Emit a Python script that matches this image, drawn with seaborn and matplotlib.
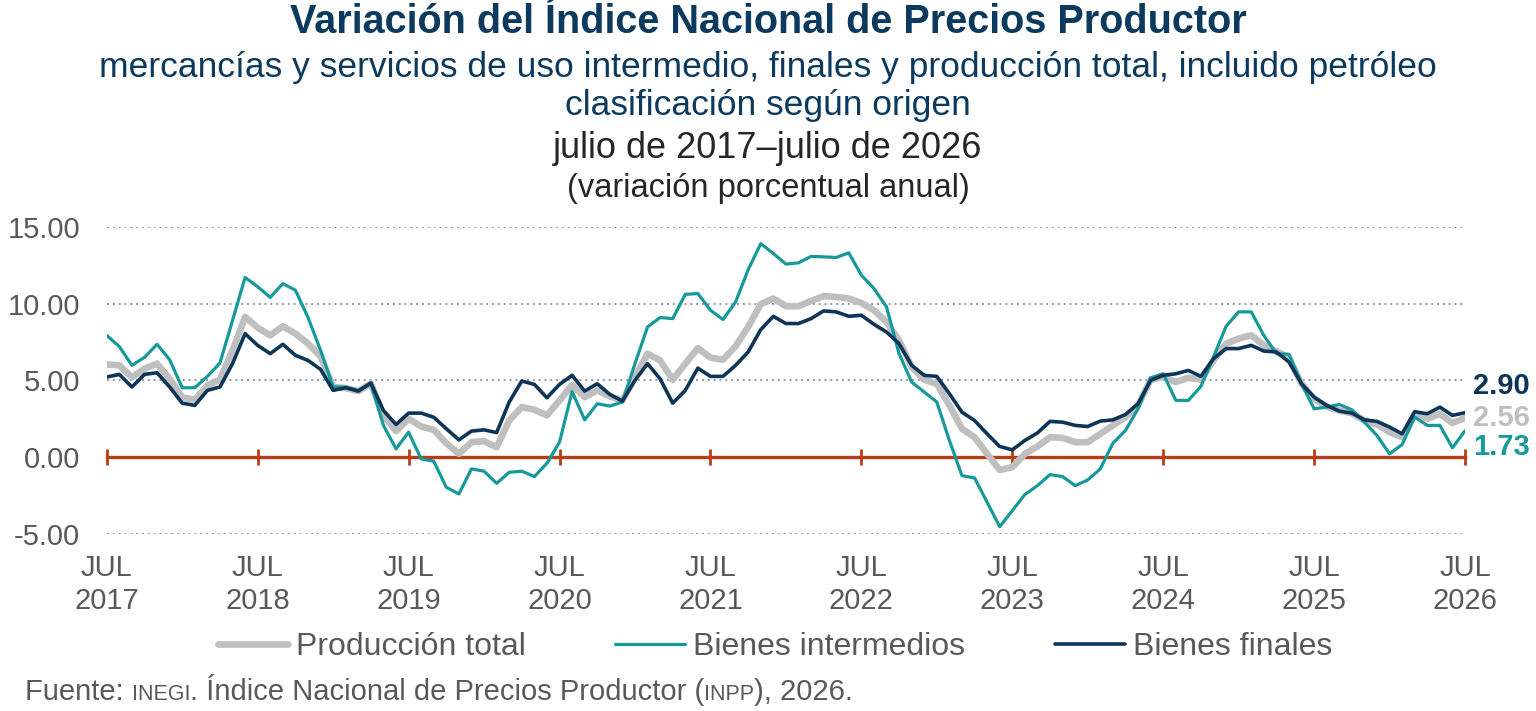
import numpy as np
import pandas as pd
import matplotlib
matplotlib.use('Agg')
import matplotlib.pyplot as plt
import seaborn as sns

# datos mensuales, julio 2017 a julio 2026 (variacion % anual)
years = list(range(2017, 2027))

total = [6.04, 5.98, 5.2, 5.76, 6.09, 5.1, 3.9, 3.74, 4.67, 5.04, 6.96, 9.13,
         8.43, 7.93, 8.52, 8.04, 7.4, 6.57, 4.57, 4.5, 4.3, 4.8, 2.72, 1.7,
         2.5, 2.0, 1.78, 0.91, 0.22, 0.98, 1.04, 0.65, 2.39, 3.26, 3.09, 2.72,
         3.7, 4.7, 3.91, 4.35, 3.96, 3.7, 5.22, 6.74, 6.3, 5.04, 6.09, 7.1,
         6.48, 6.35, 7.22, 8.48, 9.96, 10.33, 9.83, 9.83, 10.17, 10.48, 10.43, 10.33,
         10.04, 9.57, 8.8, 7.6, 5.87, 5.04, 4.78, 3.37, 1.85, 1.3, 0.22, -0.83,
         -0.65, 0.22, 0.7, 1.3, 1.26, 0.98, 0.98, 1.52, 2.07, 2.61, 3.37, 5.04,
         5.22, 4.89, 5.17, 5.04, 6.3, 7.39, 7.72, 7.93, 7.28, 6.9, 6.48, 4.78,
         3.8, 3.3, 3.04, 2.87, 2.39, 2.13, 1.63, 1.3, 2.83, 2.5, 2.83, 2.22,
         2.56]

intermedios = [7.93, 7.2, 5.98, 6.5, 7.35, 6.35, 4.52, 4.52, 5.26, 6.13, 8.9, 11.7,
               11.1, 10.4, 11.3, 10.87, 9.1, 6.96, 4.57, 4.57, 4.35, 4.78, 2.07, 0.54,
               1.63, -0.11, -0.26, -1.96, -2.39, -0.76, -0.91, -1.7, -0.98, -0.91, -1.26, -0.39,
               0.98, 4.27, 2.43, 3.48, 3.33, 3.59, 6.09, 8.48, 9.09, 9.02, 10.6, 10.65,
               9.57, 8.96, 10.1, 12.2, 13.9, 13.26, 12.57, 12.65, 13.07, 13.04, 13.0, 13.3,
               11.85, 10.98, 9.78, 6.74, 4.89, 4.24, 3.59, 1.09, -1.2, -1.35, -2.93, -4.52,
               -3.48, -2.43, -1.85, -1.13, -1.26, -1.85, -1.48, -0.76, 0.91, 1.74, 3.15, 5.17,
               5.43, 3.7, 3.7, 4.61, 6.52, 8.52, 9.46, 9.46, 7.93, 6.74, 6.7, 4.78,
               3.15, 3.26, 3.43, 3.09, 2.28, 1.41, 0.22, 0.83, 2.61, 2.07, 2.07, 0.61,
               1.73]

finales = [5.22, 5.39, 4.57, 5.39, 5.5, 4.57, 3.52, 3.37, 4.35, 4.57, 6.09, 8.04,
           7.28, 6.74, 7.35, 6.63, 6.3, 5.72, 4.35, 4.52, 4.3, 4.83, 3.04, 2.13,
           2.87, 2.87, 2.6, 1.85, 1.13, 1.7, 1.78, 1.6, 3.59, 4.96, 4.74, 3.87,
           4.74, 5.33, 4.3, 4.78, 4.09, 3.65, 5.0, 6.09, 5.1, 3.52, 4.35, 5.8,
           5.26, 5.26, 5.98, 6.85, 8.3, 9.17, 8.7, 8.7, 9.02, 9.52, 9.46, 9.17,
           9.24, 8.65, 8.15, 7.39, 5.98, 5.33, 5.26, 4.13, 2.93, 2.39, 1.52, 0.7,
           0.48, 1.09, 1.58, 2.33, 2.28, 2.07, 2.0, 2.35, 2.43, 2.78, 3.48, 5.0,
           5.33, 5.43, 5.65, 5.26, 6.41, 7.07, 7.07, 7.28, 6.91, 6.85, 6.2, 4.78,
           3.91, 3.37, 3.0, 2.87, 2.43, 2.33, 1.96, 1.52, 2.96, 2.83, 3.26, 2.72,
           2.90]

ytick_vals = [-5, 0, 5, 10, 15]
ytick_labels = ['-5.00', '0.00', '5.00', '10.00', '15.00']
xtick_labels = ['JUL\n' + str(y) for y in years]

df = pd.DataFrame({'mes': np.arange(len(total)),
                   'Producción total': total,
                   'Bienes intermedios': intermedios,
                   'Bienes finales': finales})

gray = '#BFBFBF'
teal = '#17999B'
navy = '#0C3558'
red = '#B83C16'
txt = '#595959'

sns.set_style('white')
plt.rcParams['font.family'] = ['Liberation Sans', 'DejaVu Sans']

fig = plt.figure(figsize=(15.36, 7.11), dpi=100)
ax = fig.add_axes([0.0695, 0.2489, 0.8843, 0.4322])

sns.lineplot(data=df, x='mes', y='Producción total', ax=ax, color=gray, linewidth=4.8, label='Producción total')
sns.lineplot(data=df, x='mes', y='Bienes intermedios', ax=ax, color=teal, linewidth=2.3, label='Bienes intermedios')
sns.lineplot(data=df, x='mes', y='Bienes finales', ax=ax, color=navy, linewidth=2.6, label='Bienes finales')

handles, labels = ax.get_legend_handles_labels()
if ax.get_legend():
    ax.get_legend().remove()

ax.set_xlim(0, len(total) - 1)
ax.set_ylim(-5, 15)
ax.set_xlabel('')
ax.set_ylabel('')
ax.set_yticks(ytick_vals, ytick_labels)
ax.set_xticks(range(0, len(total), 12), xtick_labels)
for lbl in ax.get_xticklabels():
    lbl.set_linespacing(1.05)

ax.yaxis.grid(True, linestyle=(0, (1, 2)), color='#8C9AAB', linewidth=1.4)
ax.xaxis.grid(False)
for s in ['top', 'right', 'left']:
    ax.spines[s].set_visible(False)
# eje x en cero, con marcas rojas
ax.spines['bottom'].set_position(('data', 0))
ax.spines['bottom'].set_color(red)
ax.spines['bottom'].set_linewidth(2.4)
ax.spines['bottom'].set_zorder(1.5)
ax.tick_params(axis='x', bottom=True, direction='inout', length=12, width=2, color=red,
               labelsize=21, labelcolor=txt, pad=64)
ax.tick_params(axis='y', left=False, length=0, labelsize=21, labelcolor=txt, pad=19)

# etiquetas del ultimo dato
for vals, col, dy in [(finales, navy, 19), (total, gray, 0), (intermedios, teal, -12)]:
    ax.annotate(f'{vals[-1]:.2f}', xy=(len(vals) - 1, vals[-1]), xytext=(6, dy),
                textcoords='offset points', ha='left', va='center', fontsize=21,
                fontweight='bold', color=col, annotation_clip=False)

# titulos
fig.text(0.5, 1 - 22 / 711, 'Variación del Índice Nacional de Precios Productor',
         ha='center', va='center', fontsize=28.5, fontweight='bold', color='#0B3A5E')
fig.text(0.5, 1 - 68 / 711, 'mercancías y servicios de uso intermedio, finales y producción total, incluido petróleo',
         ha='center', va='center', fontsize=25.5, color='#0B3A5E')
fig.text(0.5, 1 - 106 / 711, 'clasificación según origen',
         ha='center', va='center', fontsize=25.5, color='#0B3A5E')
fig.text(0.5, 1 - 149 / 711, 'julio de 2017–julio de 2026',
         ha='center', va='center', fontsize=26, color='#262626')
fig.text(0.5, 1 - 189 / 711, '(variación porcentual anual)',
         ha='center', va='center', fontsize=23.5, color='#262626')

fig.legend(handles, labels, loc='center', bbox_to_anchor=(775 / 1536, 1 - 647 / 711),
           ncol=3, frameon=False, fontsize=23, labelcolor=txt, handlelength=2.2,
           handletextpad=0.25, columnspacing=2.8)

# fuente con versalitas, todo sobre la misma linea base
base_y = 1 - 700 / 711
t = fig.text(25 / 1536, base_y, 'Fuente: ', fontsize=21, color=txt, va='baseline')
pieces = [('INEGI', 15.5), ('. Índice Nacional de Precios Productor (', 21), ('INPP', 15.5), ('), 2026.', 21)]
prev = t
for s, fs in pieces:
    prev = ax.annotate(s, xy=(1, base_y), xycoords=(prev, 'figure fraction'), ha='left',
                       va='baseline', fontsize=fs, color=txt, annotation_clip=False)

fig.savefig('out.png', dpi=100)
